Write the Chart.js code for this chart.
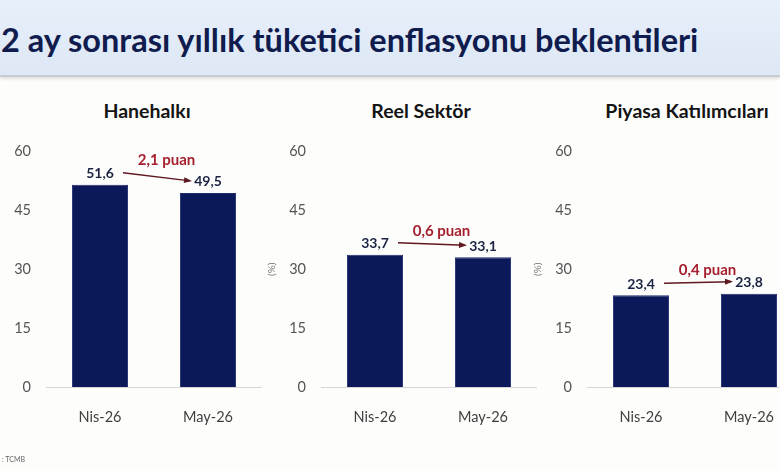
<!DOCTYPE html>
<html>
<head>
<meta charset="utf-8">
<script src="https://cdn.jsdelivr.net/npm/chart.js@4.4.1/dist/chart.umd.min.js"></script>
<style>
  html, body { margin: 0; padding: 0; }
  body { width: 780px; height: 470px; overflow: hidden; position: relative; background: #fdfdfc; font-family: Lato, "Open Sans", sans-serif; }
  #head { position: absolute; left: 0; top: 0; width: 780px; height: 75px; background: linear-gradient(#e7effa, #dde7f5); border-bottom: 2px solid #c8cbd2; box-shadow: 0 2px 3px rgba(0,0,0,.12); }
  #head h1 { margin: 0; position: absolute; left: 1px; top: 20px; font-size: 32.5px; font-weight: 700; color: #101c4e; white-space: nowrap; letter-spacing: 0; }
  .ptitle { position: absolute; top: 99px; font-size: 19.5px; font-weight: 700; color: #141414; transform: translateX(-50%); white-space: nowrap; }
  canvas { position: absolute; top: 128px; }
  #src { position: absolute; left: 2px; top: 455px; font-size: 7px; color: #666; }
</style>
</head>
<body>
<div id="head"><h1>2 ay sonrası yıllık tüketici enflasyonu beklentileri</h1></div>
<div class="ptitle" style="left:147px">Hanehalkı</div>
<div class="ptitle" style="left:421px">Reel Sektör</div>
<div class="ptitle" style="left:687px">Piyasa Katılımcıları</div>
<canvas id="c1" width="278" height="328" style="left:-16px"></canvas>
<canvas id="c2" width="278" height="328" style="left:259px"></canvas>
<canvas id="c3" width="278" height="328" style="left:525px"></canvas>
<div id="src">: TCMB</div>
<script>
const months = ['Nis-26', 'May-26'];
const hanehalki = [51.6, 49.5];
const reelSektor = [33.7, 33.1];
const piyasa = [23.4, 23.8];
const changes = [2.1, 0.6, 0.4];
const yMax = 60;
const yStep = 15;

const fmt = v => v.toFixed(1).replace('.', ',');

// value labels over the bars + red "x puan" arrow between them
const barNotes = {
  id: 'barNotes',
  afterDatasetsDraw(chart, args, opts) {
    const { ctx } = chart;
    const bars = chart.getDatasetMeta(0).data;
    const vals = chart.data.datasets[0].data;
    ctx.save();
    ctx.font = 'bold 14px Lato';
    ctx.fillStyle = '#1b2342';
    ctx.textAlign = 'center';
    ctx.textBaseline = 'middle';
    const ly = bars.map(b => b.y - 11);
    bars.forEach((b, i) => ctx.fillText(fmt(vals[i]), b.x, ly[i]));

    const x0 = bars[0].x + 23, y0 = ly[0] - 1;
    const x1 = bars[1].x - 18, y1 = ly[1] - 1;
    ctx.strokeStyle = '#5e1820';
    ctx.fillStyle = '#5e1820';
    ctx.lineWidth = 1.5;
    ctx.beginPath();
    ctx.moveTo(x0, y0);
    ctx.lineTo(x1, y1);
    ctx.stroke();
    const a = Math.atan2(y1 - y0, x1 - x0);
    ctx.beginPath();
    ctx.moveTo(x1 + 2, y1 + 2 * Math.tan(a));
    ctx.lineTo(x1 - 6 * Math.cos(a) + 3 * Math.sin(a), y1 - 6 * Math.sin(a) - 3 * Math.cos(a));
    ctx.lineTo(x1 - 6 * Math.cos(a) - 3 * Math.sin(a), y1 - 6 * Math.sin(a) + 3 * Math.cos(a));
    ctx.closePath();
    ctx.fill();

    ctx.font = 'bold 15px Lato';
    ctx.fillStyle = '#a51f2d';
    ctx.fillText(fmt(opts.change) + ' puan', (x0 + x1) / 2 + 10, Math.min(y0, y1) - 12);
    ctx.restore();
  }
};

function makeChart(id, values, change, showUnit) {
  return new Chart(document.getElementById(id), {
    type: 'bar',
    data: {
      labels: months,
      datasets: [{
        data: values,
        backgroundColor: '#0b185a',
        borderColor: '#1f2d6e',
        borderWidth: 1,
        categoryPercentage: 1,
        barPercentage: 0.52
      }]
    },
    options: {
      responsive: false,
      animation: false,
      layout: { padding: { top: 7, left: 0, right: 0, bottom: 0 } },
      plugins: {
        legend: { display: false },
        tooltip: { enabled: false },
        barNotes: { change: change }
      },
      scales: {
        x: {
          grid: { display: false },
          border: { display: true, color: '#d6d6d6', width: 1 },
          ticks: { color: '#404040', font: { family: 'Lato', size: 14.5 }, padding: 14 },
          afterFit: s => { s.height = 69; }
        },
        y: {
          min: 0,
          max: yMax,
          grid: { display: false, drawTicks: false },
          border: { display: false },
          ticks: { stepSize: yStep, color: '#555', font: { family: 'Lato', size: 14.5 }, padding: 15 },
          title: { display: showUnit, text: '(%)', color: '#777', font: { family: 'Lato', size: 10 }, padding: { top: 7, bottom: 0 } },
          afterFit: s => { s.width = 62; }
        }
      }
    },
    plugins: [barNotes]
  });
}

makeChart('c1', hanehalki, changes[0], false);
makeChart('c2', reelSektor, changes[1], true);
makeChart('c3', piyasa, changes[2], true);
</script>
</body>
</html>
